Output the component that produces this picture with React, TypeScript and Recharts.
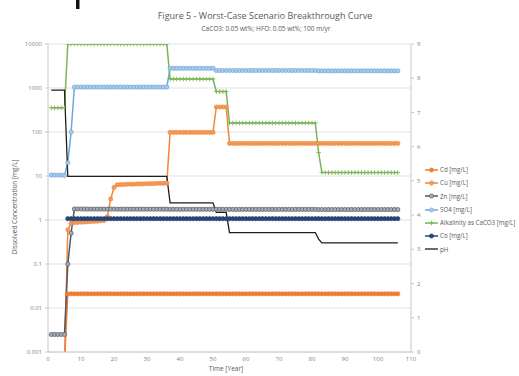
import React from "react";
import { ComposedChart, Line, XAxis, YAxis, CartesianGrid, Legend } from "recharts";

// Time steps [year]
const years = [
  1, 2, 3, 4, 5, 6, 7, 8, 9, 10,
  11, 12, 13, 14, 15, 16, 17, 18, 19, 20,
  21, 22, 23, 24, 25, 26, 27, 28, 29, 30,
  31, 32, 33, 34, 35, 36, 37, 38, 39, 40,
  41, 42, 43, 44, 45, 46, 47, 48, 49, 50,
  51, 52, 53, 54, 55, 56, 57, 58, 59, 60,
  61, 62, 63, 64, 65, 66, 67, 68, 69, 70,
  71, 72, 73, 74, 75, 76, 77, 78, 79, 80,
  81, 82, 83, 84, 85, 86, 87, 88, 89, 90,
  91, 92, 93, 94, 95, 96, 97, 98, 99, 100,
  101, 102, 103, 104, 105, 106,
];

// mg/L (values under 0.001 fall below the log axis)
const cd = [
  0.0006, 0.0006, 0.0006, 0.0006, 0.0006, 0.021, 0.021, 0.021, 0.021, 0.021,
  0.021, 0.021, 0.021, 0.021, 0.021, 0.021, 0.021, 0.021, 0.021, 0.021,
  0.021, 0.021, 0.021, 0.021, 0.021, 0.021, 0.021, 0.021, 0.021, 0.021,
  0.021, 0.021, 0.021, 0.021, 0.021, 0.021, 0.021, 0.021, 0.021, 0.021,
  0.021, 0.021, 0.021, 0.021, 0.021, 0.021, 0.021, 0.021, 0.021, 0.021,
  0.021, 0.021, 0.021, 0.021, 0.021, 0.021, 0.021, 0.021, 0.021, 0.021,
  0.021, 0.021, 0.021, 0.021, 0.021, 0.021, 0.021, 0.021, 0.021, 0.021,
  0.021, 0.021, 0.021, 0.021, 0.021, 0.021, 0.021, 0.021, 0.021, 0.021,
  0.021, 0.021, 0.021, 0.021, 0.021, 0.021, 0.021, 0.021, 0.021, 0.021,
  0.021, 0.021, 0.021, 0.021, 0.021, 0.021, 0.021, 0.021, 0.021, 0.021,
  0.021, 0.021, 0.021, 0.021, 0.021, 0.021,
];

const cu = [
  0.0006, 0.0006, 0.0006, 0.0006, 0.0006, 0.6, 0.84, 0.87, 0.88, 0.89,
  0.9, 0.91, 0.92, 0.93, 0.94, 0.96, 0.98, 1.2, 3.0, 5.5,
  6.3, 6.4, 6.4, 6.5, 6.5, 6.5, 6.6, 6.6, 6.6, 6.7,
  6.7, 6.7, 6.8, 6.8, 6.8, 6.9, 98, 98, 98, 98,
  98, 98, 98, 98, 98, 98, 98, 98, 98, 98,
  370, 370, 370, 370, 55, 55, 55, 55, 55, 55,
  55, 55, 55, 55, 55, 55, 55, 55, 55, 55,
  55, 55, 55, 55, 55, 55, 55, 55, 55, 55,
  55, 55, 55, 55, 55, 55, 55, 55, 55, 55,
  55, 55, 55, 55, 55, 55, 55, 55, 55, 55,
  55, 55, 55, 55, 55, 55,
];

const zn = [
  0.0025, 0.0025, 0.0025, 0.0025, 0.0025, 0.1, 0.5, 1.78, 1.78, 1.78,
  1.77, 1.77, 1.77, 1.77, 1.77, 1.77, 1.77, 1.77, 1.77, 1.77,
  1.76, 1.76, 1.76, 1.76, 1.76, 1.76, 1.76, 1.76, 1.76, 1.76,
  1.76, 1.76, 1.76, 1.76, 1.76, 1.76, 1.75, 1.75, 1.75, 1.75,
  1.75, 1.75, 1.75, 1.75, 1.75, 1.75, 1.75, 1.75, 1.75, 1.75,
  1.75, 1.75, 1.75, 1.75, 1.74, 1.74, 1.74, 1.74, 1.74, 1.74,
  1.74, 1.74, 1.74, 1.74, 1.74, 1.74, 1.74, 1.74, 1.74, 1.74,
  1.74, 1.74, 1.74, 1.74, 1.74, 1.74, 1.74, 1.74, 1.74, 1.74,
  1.74, 1.73, 1.73, 1.73, 1.73, 1.73, 1.73, 1.73, 1.73, 1.73,
  1.73, 1.73, 1.73, 1.73, 1.73, 1.73, 1.73, 1.73, 1.73, 1.73,
  1.73, 1.73, 1.73, 1.73, 1.73, 1.73,
];

const so4 = [
  10.5, 10.5, 10.5, 10.5, 10.3, 20, 100, 1050, 1050, 1050,
  1050, 1050, 1050, 1050, 1050, 1050, 1050, 1050, 1050, 1050,
  1050, 1050, 1050, 1050, 1050, 1050, 1050, 1050, 1050, 1050,
  1050, 1050, 1050, 1050, 1050, 1050, 2800, 2800, 2800, 2800,
  2800, 2800, 2800, 2800, 2800, 2800, 2800, 2800, 2800, 2800,
  2500, 2500, 2500, 2500, 2500, 2500, 2500, 2500, 2500, 2500,
  2500, 2500, 2500, 2500, 2500, 2500, 2500, 2500, 2500, 2500,
  2500, 2500, 2500, 2500, 2500, 2500, 2500, 2500, 2500, 2500,
  2500, 2450, 2450, 2450, 2450, 2450, 2450, 2450, 2450, 2450,
  2450, 2450, 2450, 2450, 2450, 2450, 2450, 2450, 2450, 2450,
  2450, 2450, 2450, 2450, 2450, 2450,
];

const alkalinity = [
  355, 355, 355, 355, 355, 10000, 10000, 10000, 10000, 10000,
  10000, 10000, 10000, 10000, 10000, 10000, 10000, 10000, 10000, 10000,
  10000, 10000, 10000, 10000, 10000, 10000, 10000, 10000, 10000, 10000,
  10000, 10000, 10000, 10000, 10000, 10000, 1600, 1600, 1600, 1600,
  1600, 1600, 1600, 1600, 1600, 1600, 1600, 1600, 1600, 1600,
  830, 830, 830, 830, 160, 160, 160, 160, 160, 160,
  160, 160, 160, 160, 160, 160, 160, 160, 160, 160,
  160, 160, 160, 160, 160, 160, 160, 160, 160, 160,
  160, 34, 12, 12, 12, 12, 12, 12, 12, 12,
  12, 12, 12, 12, 12, 12, 12, 12, 12, 12,
  12, 12, 12, 12, 12, 12,
];

const co = [
  null, null, null, null, null, 1.07, 1.07, 1.07, 1.07, 1.07,
  1.07, 1.07, 1.07, 1.07, 1.07, 1.07, 1.07, 1.07, 1.07, 1.07,
  1.07, 1.07, 1.07, 1.07, 1.07, 1.07, 1.07, 1.07, 1.07, 1.07,
  1.07, 1.07, 1.07, 1.07, 1.07, 1.07, 1.07, 1.07, 1.07, 1.07,
  1.07, 1.07, 1.07, 1.07, 1.07, 1.07, 1.07, 1.07, 1.07, 1.07,
  1.07, 1.07, 1.07, 1.07, 1.07, 1.07, 1.07, 1.07, 1.07, 1.07,
  1.07, 1.07, 1.07, 1.07, 1.07, 1.07, 1.07, 1.07, 1.07, 1.07,
  1.07, 1.07, 1.07, 1.07, 1.07, 1.07, 1.07, 1.07, 1.07, 1.07,
  1.07, 1.07, 1.07, 1.07, 1.07, 1.07, 1.07, 1.07, 1.07, 1.07,
  1.07, 1.07, 1.07, 1.07, 1.07, 1.07, 1.07, 1.07, 1.07, 1.07,
  1.07, 1.07, 1.07, 1.07, 1.07, 1.07,
];

// pH, right axis
const ph = [
  7.65, 7.65, 7.65, 7.65, 7.65, 5.13, 5.13, 5.13, 5.13, 5.13,
  5.13, 5.13, 5.13, 5.13, 5.13, 5.13, 5.13, 5.13, 5.13, 5.13,
  5.13, 5.13, 5.13, 5.13, 5.13, 5.13, 5.13, 5.13, 5.13, 5.13,
  5.13, 5.13, 5.13, 5.13, 5.13, 5.13, 4.36, 4.36, 4.36, 4.36,
  4.36, 4.36, 4.36, 4.36, 4.36, 4.36, 4.36, 4.36, 4.36, 4.36,
  4.08, 4.08, 4.08, 4.08, 3.49, 3.49, 3.49, 3.49, 3.49, 3.49,
  3.49, 3.49, 3.49, 3.49, 3.49, 3.49, 3.49, 3.49, 3.49, 3.49,
  3.49, 3.49, 3.49, 3.49, 3.49, 3.49, 3.49, 3.49, 3.49, 3.49,
  3.49, 3.3, 3.19, 3.19, 3.19, 3.19, 3.19, 3.19, 3.19, 3.19,
  3.19, 3.19, 3.19, 3.19, 3.19, 3.19, 3.19, 3.19, 3.19, 3.19,
  3.19, 3.19, 3.19, 3.19, 3.19, 3.19,
];

const xTicks = [0, 10, 20, 30, 40, 50, 60, 70, 80, 90, 100, 110];
const concTicks = [0.001, 0.01, 0.1, 1, 10, 100, 1000, 10000];
const phTicks = [0, 1, 2, 3, 4, 5, 6, 7, 8, 9];

const data = years.map((year, i) => ({
  year,
  cd: cd[i],
  cu: cu[i],
  zn: zn[i],
  so4: so4[i],
  alkalinity: alkalinity[i],
  co: co[i],
  ph: ph[i],
}));

type Marker = "circle" | "plus" | "none";

const series: {
  key: string;
  name: string;
  color: string;
  fill: string;
  marker: Marker;
  axis: string;
}[] = [
  { key: "cd", name: "Cd [mg/L]", color: "#ED7D31", fill: "#ED7D31", marker: "circle", axis: "left" },
  { key: "cu", name: "Cu [mg/L]", color: "#F0873C", fill: "#F39A55", marker: "circle", axis: "left" },
  { key: "zn", name: "Zn [mg/L]", color: "#4B5668", fill: "#A9ADB3", marker: "circle", axis: "left" },
  { key: "so4", name: "SO4 [mg/L]", color: "#6FA6DC", fill: "#A9CBEB", marker: "circle", axis: "left" },
  { key: "alkalinity", name: "Alkalinity as CaCO3 [mg/L]", color: "#7BB454", fill: "#7BB454", marker: "plus", axis: "left" },
  { key: "co", name: "Co [mg/L]", color: "#264478", fill: "#264478", marker: "circle", axis: "left" },
  { key: "ph", name: "pH", color: "#1E1E1E", fill: "#1E1E1E", marker: "none", axis: "right" },
];

const FONT = "'Open Sans', 'Noto Sans', sans-serif";
const TEXT = "#7F7F7F";

const makeDot = (marker: Marker, color: string, fill: string) => (props: any) => {
  const { cx, cy, index } = props;
  const k = `d-${index}`;
  if (cx == null || cy == null || Number.isNaN(cy)) return <g key={k} />;
  if (marker === "plus") {
    return (
      <path
        key={k}
        d={`M${cx - 2.3},${cy}h4.6M${cx},${cy - 2.3}v4.6`}
        stroke={color}
        strokeWidth={0.9}
        fill="none"
      />
    );
  }
  return <circle key={k} cx={cx} cy={cy} r={2.1} fill={fill} stroke={color} strokeWidth={0.7} />;
};

const LegendBox = () => (
  <div style={{ fontFamily: FONT, fontSize: 6.2, color: "#595959", lineHeight: "13.3px" }}>
    {series.map((s) => (
      <div key={s.key} style={{ display: "flex", alignItems: "center", height: 13.3, whiteSpace: "nowrap" }}>
        <svg width={14} height={8} style={{ marginRight: 1 }}>
          <line x1={0} y1={4} x2={13} y2={4} stroke={s.color} strokeWidth={s.marker === "none" ? 1.3 : 1.5} />
          {s.marker === "circle" && <circle cx={6.5} cy={4} r={2.1} fill={s.fill} stroke={s.color} strokeWidth={0.7} />}
          {s.marker === "plus" && <path d="M4.2,4h4.6M6.5,1.7v4.6" stroke={s.color} strokeWidth={0.9} />}
        </svg>
        <span>{s.name}</span>
      </div>
    ))}
  </div>
);

export default function App() {
  return (
    <div style={{ position: "absolute", left: 0, top: 0, width: 519, height: 376, overflow: "hidden", background: "#fff" }}>
      <ComposedChart
        width={519}
        height={376}
        data={data}
        margin={{ top: 44, right: 88, bottom: 0, left: 0 }}
        style={{ fontFamily: FONT }}
      >
        <CartesianGrid yAxisId="left" vertical={false} stroke="#D9D9D9" strokeWidth={0.8} />
        <XAxis
          dataKey="year"
          type="number"
          domain={[0, 110]}
          ticks={xTicks}
          height={24}
          tickSize={0}
          tickMargin={5}
          axisLine={{ stroke: "#C8C8C8" }}
          tick={{ fill: TEXT, fontSize: 6 }}
        />
        <YAxis
          yAxisId="left"
          scale="log"
          domain={[0.001, 10000]}
          ticks={concTicks}
          allowDataOverflow
          width={48}
          tickSize={3}
          tickMargin={3}
          axisLine={{ stroke: "#C8C8C8" }}
          tickLine={{ stroke: "#C8C8C8" }}
          tick={{ fill: TEXT, fontSize: 6 }}
        />
        <YAxis
          yAxisId="right"
          orientation="right"
          domain={[0, 9]}
          ticks={phTicks}
          allowDataOverflow
          width={20}
          tickSize={3}
          tickMargin={3}
          axisLine={{ stroke: "#C8C8C8" }}
          tickLine={{ stroke: "#C8C8C8" }}
          tick={{ fill: TEXT, fontSize: 6 }}
        />
        {series.map((s) => (
          <Line
            key={s.key}
            yAxisId={s.axis}
            dataKey={s.key}
            name={s.name}
            type="linear"
            stroke={s.color}
            strokeWidth={s.marker === "none" ? 1.3 : 1.5}
            dot={s.marker === "none" ? false : makeDot(s.marker, s.color, s.fill)}
            activeDot={false}
            isAnimationActive={false}
          />
        ))}
        <Legend
          layout="vertical"
          align="center"
          verticalAlign="middle"
          wrapperStyle={{ left: 425, top: 163, width: 100 }}
          content={() => <LegendBox />}
        />
        {/* dark stroke poking in at the top edge */}
        <rect x={76} y={0} width={3.5} height={9} fill="#111" />
        <text x={265} y={19} textAnchor="middle" fontSize={9} fill="#595959">
          Figure 5 - Worst-Case Scenario Breakthrough Curve
        </text>
        <text x={266} y={31} textAnchor="middle" fontSize={6.5} fill="#595959">
          CaCO3: 0.05 wt%; HFO: 0.05 wt%; 100 m/yr
        </text>
        <text
          x={15}
          y={207}
          textAnchor="middle"
          dominantBaseline="middle"
          fontSize={6.5}
          fill="#595959"
          transform="rotate(-90 15 207)"
        >
          Dissolved Concentration [mg/L]
        </text>
        <text x={226} y={371} textAnchor="middle" fontSize={6.5} fill="#595959">
          Time [Year]
        </text>
      </ComposedChart>
    </div>
  );
}
